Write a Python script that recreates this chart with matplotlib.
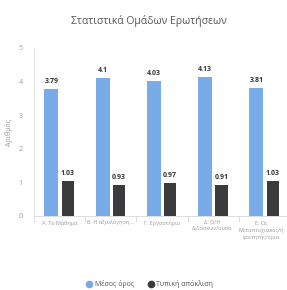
import matplotlib.pyplot as plt
from matplotlib.lines import Line2D
from matplotlib.transforms import ScaledTranslation
import numpy as np

plt.rcParams['font.family'] = ['Open Sans', 'DejaVu Sans']

categories = ['Α. Το Μάθημα', 'Β. Η αξιολόγηση...', 'Γ. Εργαστήριο',
              'Δ. Ο/Η\nΔιδάσκων/ουσα', 'Ε. Ως\nΜεταπτυχιακός/ή\nφοιτητής/τρια']
mean_vals = [3.79, 4.1, 4.03, 4.13, 3.81]
std_vals = [1.03, 0.93, 0.97, 0.91, 1.03]

blue = '#78abe8'
dark = '#3b3b3e'
grey = '#9a9a9a'

fig = plt.figure(figsize=(2.87, 2.90), dpi=100)
ax = fig.add_axes([34 / 287, 1 - 216 / 290, 1 - 34 / 287, (216 - 48) / 290])

x = np.arange(len(categories))
b1 = ax.bar(x - 0.16, mean_vals, width=0.27, color=blue)
b2 = ax.bar(x + 0.16, std_vals, width=0.24, color=dark)

for bars, vals in [(b1, mean_vals), (b2, std_vals)]:
    for rect, v in zip(bars, vals):
        ax.text(rect.get_x() + rect.get_width() / 2, v + 0.12, f'{v:g}',
                ha='center', va='bottom', fontsize=5, color='#333333', fontweight='bold')

ax.set_xlim(-0.5, 4.44)
ax.set_ylim(0, 5)
ax.set_yticks(range(6))
ax.tick_params(axis='y', length=0, labelsize=5, labelcolor=grey, pad=8)
ax.set_xticks(x)
ax.set_xticklabels(categories, fontsize=4.0, color=grey, linespacing=1.3)
ax.tick_params(axis='x', length=0, pad=3)
ax.set_xticks(np.arange(-0.5, 4.5, 1), minor=True)
ax.tick_params(axis='x', which='minor', length=4, color='#d8d8d8', width=0.6)

# nudge the last two labels so they neither collide nor leave the figure
labels = ax.get_xticklabels()
for lab, dx in [(labels[3], -1.5), (labels[4], -3.0)]:
    lab.set_transform(lab.get_transform() + ScaledTranslation(dx / 100, 0, fig.dpi_scale_trans))

for s in ['top', 'right']:
    ax.spines[s].set_visible(False)
ax.spines['left'].set_color('#e0e0e0')
ax.spines['bottom'].set_color('#d8d8d8')
ax.spines['left'].set_linewidth(0.6)
ax.spines['bottom'].set_linewidth(0.6)

ax.set_ylabel('Αριθμός', fontsize=5, color=grey, labelpad=4)

fig.text(0.52, 1 - 21 / 290, 'Στατιστικά Ομάδων Ερωτήσεων', ha='center', va='center',
         fontsize=7.5, color='#555555')

handles = [Line2D([], [], marker='o', linestyle='', color=blue, markersize=4.5),
           Line2D([], [], marker='o', linestyle='', color=dark, markersize=4.5)]
leg = fig.legend(handles, ['Μέσος όρος', 'Τυπική απόκλιση'], loc='center',
                 bbox_to_anchor=(150 / 287, 1 - 284 / 290), ncol=2, frameon=False,
                 fontsize=5, handlelength=0.8, columnspacing=2.0, handletextpad=0.4)
for t in leg.get_texts():
    t.set_color('#555555')

fig.savefig('out.png', dpi=100)
